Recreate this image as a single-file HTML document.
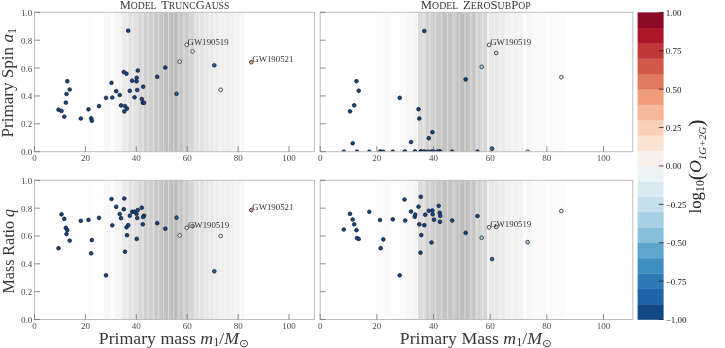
<!DOCTYPE html>
<html><head><meta charset="utf-8"><title>chart</title><style>html,body{margin:0;padding:0;background:#fff;}svg{display:block;will-change:transform;}</style></head><body>
<svg width="725" height="348" viewBox="0 0 725 348">
<defs><linearGradient id="gbL" x1="0" x2="1" y1="0" y2="0"><stop offset="0.000%" stop-color="rgb(255,255,255)"/><stop offset="18.987%" stop-color="rgb(255,255,255)"/><stop offset="19.107%" stop-color="rgb(253,253,253)"/><stop offset="21.130%" stop-color="rgb(253,253,253)"/><stop offset="21.250%" stop-color="rgb(255,255,255)"/><stop offset="24.844%" stop-color="rgb(255,255,255)"/><stop offset="24.964%" stop-color="rgb(248,248,248)"/><stop offset="27.201%" stop-color="rgb(248,248,248)"/><stop offset="27.321%" stop-color="rgb(254,254,254)"/><stop offset="28.809%" stop-color="rgb(254,254,254)"/><stop offset="28.929%" stop-color="rgb(245,245,245)"/><stop offset="31.130%" stop-color="rgb(245,245,245)"/><stop offset="31.250%" stop-color="rgb(235,235,235)"/><stop offset="33.523%" stop-color="rgb(235,235,235)"/><stop offset="33.643%" stop-color="rgb(225,225,225)"/><stop offset="36.666%" stop-color="rgb(225,225,225)"/><stop offset="36.786%" stop-color="rgb(216,216,216)"/><stop offset="38.987%" stop-color="rgb(216,216,216)"/><stop offset="39.107%" stop-color="rgb(207,207,207)"/><stop offset="42.916%" stop-color="rgb(207,207,207)"/><stop offset="43.036%" stop-color="rgb(199,199,199)"/><stop offset="45.416%" stop-color="rgb(199,199,199)"/><stop offset="45.536%" stop-color="rgb(191,191,191)"/><stop offset="48.880%" stop-color="rgb(191,191,191)"/><stop offset="49.000%" stop-color="rgb(187,187,187)"/><stop offset="50.916%" stop-color="rgb(187,187,187)"/><stop offset="51.036%" stop-color="rgb(195,195,195)"/><stop offset="52.559%" stop-color="rgb(195,195,195)"/><stop offset="52.679%" stop-color="rgb(204,204,204)"/><stop offset="55.059%" stop-color="rgb(204,204,204)"/><stop offset="55.179%" stop-color="rgb(214,214,214)"/><stop offset="57.201%" stop-color="rgb(214,214,214)"/><stop offset="57.321%" stop-color="rgb(226,226,226)"/><stop offset="60.416%" stop-color="rgb(226,226,226)"/><stop offset="60.536%" stop-color="rgb(230,230,230)"/><stop offset="61.844%" stop-color="rgb(230,230,230)"/><stop offset="61.964%" stop-color="rgb(233,233,233)"/><stop offset="63.630%" stop-color="rgb(233,233,233)"/><stop offset="63.750%" stop-color="rgb(237,237,237)"/><stop offset="65.416%" stop-color="rgb(237,237,237)"/><stop offset="65.536%" stop-color="rgb(240,240,240)"/><stop offset="67.201%" stop-color="rgb(240,240,240)"/><stop offset="67.321%" stop-color="rgb(240,240,240)"/><stop offset="70.773%" stop-color="rgb(240,240,240)"/><stop offset="70.893%" stop-color="rgb(244,244,244)"/><stop offset="73.273%" stop-color="rgb(244,244,244)"/><stop offset="73.393%" stop-color="rgb(249,249,249)"/><stop offset="74.916%" stop-color="rgb(249,249,249)"/><stop offset="75.036%" stop-color="rgb(255,255,255)"/><stop offset="99.880%" stop-color="rgb(255,255,255)"/><stop offset="100.000%" stop-color="rgb(255,255,255)"/></linearGradient><linearGradient id="gbR" x1="0" x2="1" y1="0" y2="0"><stop offset="0.000%" stop-color="rgb(255,255,255)"/><stop offset="14.691%" stop-color="rgb(255,255,255)"/><stop offset="14.811%" stop-color="rgb(254,254,254)"/><stop offset="18.210%" stop-color="rgb(254,254,254)"/><stop offset="18.330%" stop-color="rgb(252,252,252)"/><stop offset="20.289%" stop-color="rgb(252,252,252)"/><stop offset="20.409%" stop-color="rgb(250,250,250)"/><stop offset="22.465%" stop-color="rgb(250,250,250)"/><stop offset="22.585%" stop-color="rgb(253,253,253)"/><stop offset="25.280%" stop-color="rgb(253,253,253)"/><stop offset="25.400%" stop-color="rgb(250,250,250)"/><stop offset="27.327%" stop-color="rgb(250,250,250)"/><stop offset="27.447%" stop-color="rgb(247,247,247)"/><stop offset="29.567%" stop-color="rgb(247,247,247)"/><stop offset="29.687%" stop-color="rgb(244,244,244)"/><stop offset="30.846%" stop-color="rgb(244,244,244)"/><stop offset="30.966%" stop-color="rgb(252,252,252)"/><stop offset="31.326%" stop-color="rgb(252,252,252)"/><stop offset="31.446%" stop-color="rgb(220,220,220)"/><stop offset="33.725%" stop-color="rgb(220,220,220)"/><stop offset="33.845%" stop-color="rgb(208,208,208)"/><stop offset="36.508%" stop-color="rgb(208,208,208)"/><stop offset="36.628%" stop-color="rgb(200,200,200)"/><stop offset="38.652%" stop-color="rgb(200,200,200)"/><stop offset="38.772%" stop-color="rgb(195,195,195)"/><stop offset="42.874%" stop-color="rgb(195,195,195)"/><stop offset="42.994%" stop-color="rgb(202,202,202)"/><stop offset="43.642%" stop-color="rgb(202,202,202)"/><stop offset="43.762%" stop-color="rgb(190,190,190)"/><stop offset="46.521%" stop-color="rgb(190,190,190)"/><stop offset="46.641%" stop-color="rgb(188,188,188)"/><stop offset="47.257%" stop-color="rgb(188,188,188)"/><stop offset="47.377%" stop-color="rgb(198,198,198)"/><stop offset="49.400%" stop-color="rgb(198,198,198)"/><stop offset="49.520%" stop-color="rgb(208,208,208)"/><stop offset="51.160%" stop-color="rgb(208,208,208)"/><stop offset="51.280%" stop-color="rgb(213,213,213)"/><stop offset="53.239%" stop-color="rgb(213,213,213)"/><stop offset="53.359%" stop-color="rgb(242,242,242)"/><stop offset="53.783%" stop-color="rgb(242,242,242)"/><stop offset="53.903%" stop-color="rgb(232,232,232)"/><stop offset="56.438%" stop-color="rgb(232,232,232)"/><stop offset="56.558%" stop-color="rgb(236,236,236)"/><stop offset="58.901%" stop-color="rgb(236,236,236)"/><stop offset="59.021%" stop-color="rgb(240,240,240)"/><stop offset="60.277%" stop-color="rgb(240,240,240)"/><stop offset="60.397%" stop-color="rgb(242,242,242)"/><stop offset="63.156%" stop-color="rgb(242,242,242)"/><stop offset="63.276%" stop-color="rgb(243,243,243)"/><stop offset="64.915%" stop-color="rgb(243,243,243)"/><stop offset="65.035%" stop-color="rgb(251,251,251)"/><stop offset="66.035%" stop-color="rgb(251,251,251)"/><stop offset="66.155%" stop-color="rgb(246,246,246)"/><stop offset="67.634%" stop-color="rgb(246,246,246)"/><stop offset="67.754%" stop-color="rgb(250,250,250)"/><stop offset="71.793%" stop-color="rgb(250,250,250)"/><stop offset="71.913%" stop-color="rgb(252,252,252)"/><stop offset="78.191%" stop-color="rgb(252,252,252)"/><stop offset="78.311%" stop-color="rgb(255,255,255)"/><stop offset="99.880%" stop-color="rgb(255,255,255)"/><stop offset="100.000%" stop-color="rgb(255,255,255)"/></linearGradient>
<pattern id="stL" x="137.2" width="5.15" height="10" patternUnits="userSpaceOnUse"><rect x="0" y="0" width="1.1" height="10" fill="#fff" fill-opacity="0.4"/></pattern>
<pattern id="stR" x="435.0" width="5.9" height="10" patternUnits="userSpaceOnUse"><rect x="0" y="0" width="1.2" height="10" fill="#fff" fill-opacity="0.4"/></pattern>
<clipPath id="ctl"><rect x="34.5" y="12.3" width="280.0" height="139.39999999999998"/></clipPath>
<clipPath id="ctr"><rect x="320.2" y="12.3" width="312.59999999999997" height="139.39999999999998"/></clipPath>
<clipPath id="cbl"><rect x="34.5" y="180.3" width="280.0" height="139.2"/></clipPath>
<clipPath id="cbr"><rect x="320.2" y="180.3" width="312.59999999999997" height="139.2"/></clipPath>
</defs>
<rect width="725" height="348" fill="#fff"/>
<rect x="34.5" y="12.3" width="280.0" height="139.39999999999998" fill="url(#gbL)"/>
<rect x="126.1" y="12.3" width="119.6" height="139.39999999999998" fill="url(#stL)"/>
<g clip-path="url(#ctl)" stroke="#141824" stroke-width="0.72">
<circle cx="58.5" cy="109.7" r="1.85" fill="#10478a"/>
<circle cx="61.5" cy="110.9" r="1.85" fill="#10478a"/>
<circle cx="64.3" cy="116.6" r="1.85" fill="#10478a"/>
<circle cx="65.8" cy="102.6" r="1.85" fill="#10478a"/>
<circle cx="66.5" cy="94.0" r="1.85" fill="#10478a"/>
<circle cx="67.3" cy="81.2" r="1.85" fill="#10478a"/>
<circle cx="69.7" cy="89.5" r="1.85" fill="#10478a"/>
<circle cx="80.8" cy="118.5" r="1.85" fill="#10478a"/>
<circle cx="88.5" cy="109.3" r="1.85" fill="#10478a"/>
<circle cx="91.2" cy="118.3" r="1.85" fill="#10478a"/>
<circle cx="91.8" cy="120.7" r="1.85" fill="#10478a"/>
<circle cx="99" cy="106.1" r="1.85" fill="#10478a"/>
<circle cx="106" cy="97.8" r="1.85" fill="#10478a"/>
<circle cx="111.5" cy="82.8" r="1.85" fill="#10478a"/>
<circle cx="112.3" cy="97.5" r="1.85" fill="#10478a"/>
<circle cx="116.2" cy="91.2" r="1.85" fill="#10478a"/>
<circle cx="119.7" cy="95" r="1.85" fill="#10478a"/>
<circle cx="121" cy="105.4" r="1.85" fill="#10478a"/>
<circle cx="123.8" cy="72" r="1.85" fill="#10478a"/>
<circle cx="124.3" cy="111.4" r="1.85" fill="#10478a"/>
<circle cx="125" cy="106" r="1.85" fill="#10478a"/>
<circle cx="126.5" cy="73.7" r="1.85" fill="#10478a"/>
<circle cx="127" cy="108.6" r="1.85" fill="#10478a"/>
<circle cx="128.2" cy="30.7" r="1.85" fill="#10478a"/>
<circle cx="129.8" cy="90.8" r="1.85" fill="#10478a"/>
<circle cx="132.2" cy="80.7" r="1.85" fill="#10478a"/>
<circle cx="134.5" cy="97.3" r="1.85" fill="#10478a"/>
<circle cx="136.5" cy="81.3" r="1.85" fill="#10478a"/>
<circle cx="136.7" cy="77.8" r="1.85" fill="#10478a"/>
<circle cx="137.2" cy="90" r="1.85" fill="#10478a"/>
<circle cx="137.8" cy="70.5" r="1.85" fill="#10478a"/>
<circle cx="141.8" cy="99" r="1.85" fill="#10478a"/>
<circle cx="142.8" cy="102.7" r="1.85" fill="#10478a"/>
<circle cx="144" cy="102.8" r="1.85" fill="#10478a"/>
<circle cx="143.2" cy="86.7" r="1.85" fill="#10478a"/>
<circle cx="157.2" cy="76.8" r="1.85" fill="#10478a"/>
<circle cx="165.3" cy="67.5" r="1.85" fill="#10478a"/>
<circle cx="176.5" cy="93.8" r="1.85" fill="#1f63a8"/>
<circle cx="179.7" cy="61.7" r="1.85" fill="#edf2f5"/>
<circle cx="186.7" cy="44.8" r="1.85" fill="#f9f0eb"/>
<circle cx="192.6" cy="51.5" r="1.85" fill="#edf2f5"/>
<circle cx="214.3" cy="65.3" r="1.85" fill="#2168b0"/>
<circle cx="220.7" cy="89.8" r="1.85" fill="#f6f6f6"/>
<circle cx="251.3" cy="62.2" r="1.85" fill="#f09c7b"/>
</g>
<text x="187.6" y="44.8" font-family="Liberation Serif, serif" font-size="8.8" fill="#333">GW190519</text>
<text x="252.3" y="62.2" font-family="Liberation Serif, serif" font-size="8.8" fill="#333">GW190521</text>
<rect x="34.5" y="12.3" width="280.0" height="139.39999999999998" fill="none" stroke="#bebebe" stroke-width="1"/>
<line x1="34.50" x2="34.50" y1="151.7" y2="146.2" stroke="#6e6e6e" stroke-width="0.8"/>
<text x="34.50" y="160.89999999999998" font-family="Liberation Serif, serif" font-size="9" fill="#4c4c4c" text-anchor="middle">0</text>
<line x1="85.41" x2="85.41" y1="151.7" y2="146.2" stroke="#6e6e6e" stroke-width="0.8"/>
<text x="85.41" y="160.89999999999998" font-family="Liberation Serif, serif" font-size="9" fill="#4c4c4c" text-anchor="middle">20</text>
<line x1="136.32" x2="136.32" y1="151.7" y2="146.2" stroke="#6e6e6e" stroke-width="0.8"/>
<text x="136.32" y="160.89999999999998" font-family="Liberation Serif, serif" font-size="9" fill="#4c4c4c" text-anchor="middle">40</text>
<line x1="187.23" x2="187.23" y1="151.7" y2="146.2" stroke="#6e6e6e" stroke-width="0.8"/>
<text x="187.23" y="160.89999999999998" font-family="Liberation Serif, serif" font-size="9" fill="#4c4c4c" text-anchor="middle">60</text>
<line x1="238.14" x2="238.14" y1="151.7" y2="146.2" stroke="#6e6e6e" stroke-width="0.8"/>
<text x="238.14" y="160.89999999999998" font-family="Liberation Serif, serif" font-size="9" fill="#4c4c4c" text-anchor="middle">80</text>
<line x1="289.05" x2="289.05" y1="151.7" y2="146.2" stroke="#6e6e6e" stroke-width="0.8"/>
<text x="289.05" y="160.89999999999998" font-family="Liberation Serif, serif" font-size="9" fill="#4c4c4c" text-anchor="middle">100</text>
<line x1="34.5" x2="40.0" y1="151.70" y2="151.70" stroke="#6e6e6e" stroke-width="0.8"/>
<line x1="34.5" x2="40.0" y1="123.82" y2="123.82" stroke="#6e6e6e" stroke-width="0.8"/>
<line x1="34.5" x2="40.0" y1="95.94" y2="95.94" stroke="#6e6e6e" stroke-width="0.8"/>
<line x1="34.5" x2="40.0" y1="68.06" y2="68.06" stroke="#6e6e6e" stroke-width="0.8"/>
<line x1="34.5" x2="40.0" y1="40.18" y2="40.18" stroke="#6e6e6e" stroke-width="0.8"/>
<line x1="34.5" x2="40.0" y1="12.30" y2="12.30" stroke="#6e6e6e" stroke-width="0.8"/>
<rect x="320.2" y="12.3" width="312.59999999999997" height="139.39999999999998" fill="url(#gbR)"/>
<rect x="422.2" y="12.3" width="133.1" height="139.39999999999998" fill="url(#stR)"/>
<g clip-path="url(#ctr)" stroke="#141824" stroke-width="0.72">
<circle cx="343.8" cy="151.7" r="1.85" fill="#10478a"/>
<circle cx="350" cy="111.3" r="1.85" fill="#10478a"/>
<circle cx="352.7" cy="143.3" r="1.85" fill="#10478a"/>
<circle cx="354.2" cy="105.3" r="1.85" fill="#10478a"/>
<circle cx="356.5" cy="81.2" r="1.85" fill="#10478a"/>
<circle cx="357" cy="151.7" r="1.85" fill="#10478a"/>
<circle cx="358.7" cy="90.7" r="1.85" fill="#10478a"/>
<circle cx="369.3" cy="151.7" r="1.85" fill="#10478a"/>
<circle cx="380" cy="151.7" r="1.85" fill="#10478a"/>
<circle cx="380.7" cy="151.7" r="1.85" fill="#10478a"/>
<circle cx="383.3" cy="151.7" r="1.85" fill="#10478a"/>
<circle cx="392.8" cy="151.7" r="1.85" fill="#10478a"/>
<circle cx="399.7" cy="97.8" r="1.85" fill="#10478a"/>
<circle cx="404.5" cy="151.7" r="1.85" fill="#10478a"/>
<circle cx="405.2" cy="151.7" r="1.85" fill="#10478a"/>
<circle cx="411" cy="142" r="1.85" fill="#10478a"/>
<circle cx="414.7" cy="151.7" r="1.85" fill="#10478a"/>
<circle cx="415.2" cy="151.7" r="1.85" fill="#10478a"/>
<circle cx="418.5" cy="109.2" r="1.85" fill="#10478a"/>
<circle cx="419.3" cy="118.5" r="1.85" fill="#10478a"/>
<circle cx="420.5" cy="151.7" r="1.85" fill="#10478a"/>
<circle cx="420.8" cy="151.7" r="1.85" fill="#10478a"/>
<circle cx="421.3" cy="151.7" r="1.85" fill="#10478a"/>
<circle cx="424.3" cy="31" r="1.85" fill="#10478a"/>
<circle cx="425.2" cy="151.7" r="1.85" fill="#10478a"/>
<circle cx="428.8" cy="138.2" r="1.85" fill="#10478a"/>
<circle cx="431.5" cy="151.7" r="1.85" fill="#10478a"/>
<circle cx="432.4" cy="132.2" r="1.85" fill="#10478a"/>
<circle cx="432.7" cy="151.7" r="1.85" fill="#10478a"/>
<circle cx="434" cy="151.7" r="1.85" fill="#10478a"/>
<circle cx="438.7" cy="151.7" r="1.85" fill="#10478a"/>
<circle cx="439.7" cy="151.7" r="1.85" fill="#10478a"/>
<circle cx="440.3" cy="151.7" r="1.85" fill="#10478a"/>
<circle cx="440" cy="151.7" r="1.85" fill="#10478a"/>
<circle cx="452.2" cy="151.7" r="1.85" fill="#10478a"/>
<circle cx="465.7" cy="79.4" r="1.85" fill="#10478a"/>
<circle cx="477.5" cy="151.7" r="1.85" fill="#10478a"/>
<circle cx="481.7" cy="66.8" r="1.85" fill="#a7d0e4"/>
<circle cx="489.1" cy="45" r="1.85" fill="#f9f0eb"/>
<circle cx="492.1" cy="148.7" r="1.85" fill="#1f63a8"/>
<circle cx="496.2" cy="53" r="1.85" fill="#c5dfec"/>
<circle cx="527.6" cy="151.7" r="1.85" fill="#a7d0e4"/>
<circle cx="561.3" cy="77.2" r="1.85" fill="#f6f6f6"/>
<circle cx="423.6" cy="151.7" r="1.85" fill="#10478a"/>
<circle cx="428.4" cy="151.7" r="1.85" fill="#10478a"/>
<circle cx="437.4" cy="151.7" r="1.85" fill="#10478a"/>
</g>
<text x="490.2" y="45.0" font-family="Liberation Serif, serif" font-size="8.8" fill="#333">GW190519</text>
<rect x="320.2" y="12.3" width="312.59999999999997" height="139.39999999999998" fill="none" stroke="#bebebe" stroke-width="1"/>
<line x1="320.20" x2="320.20" y1="151.7" y2="146.2" stroke="#6e6e6e" stroke-width="0.8"/>
<text x="320.20" y="160.89999999999998" font-family="Liberation Serif, serif" font-size="9" fill="#4c4c4c" text-anchor="middle">0</text>
<line x1="376.85" x2="376.85" y1="151.7" y2="146.2" stroke="#6e6e6e" stroke-width="0.8"/>
<text x="376.85" y="160.89999999999998" font-family="Liberation Serif, serif" font-size="9" fill="#4c4c4c" text-anchor="middle">20</text>
<line x1="433.50" x2="433.50" y1="151.7" y2="146.2" stroke="#6e6e6e" stroke-width="0.8"/>
<text x="433.50" y="160.89999999999998" font-family="Liberation Serif, serif" font-size="9" fill="#4c4c4c" text-anchor="middle">40</text>
<line x1="490.15" x2="490.15" y1="151.7" y2="146.2" stroke="#6e6e6e" stroke-width="0.8"/>
<text x="490.15" y="160.89999999999998" font-family="Liberation Serif, serif" font-size="9" fill="#4c4c4c" text-anchor="middle">60</text>
<line x1="546.80" x2="546.80" y1="151.7" y2="146.2" stroke="#6e6e6e" stroke-width="0.8"/>
<text x="546.80" y="160.89999999999998" font-family="Liberation Serif, serif" font-size="9" fill="#4c4c4c" text-anchor="middle">80</text>
<line x1="603.45" x2="603.45" y1="151.7" y2="146.2" stroke="#6e6e6e" stroke-width="0.8"/>
<text x="603.45" y="160.89999999999998" font-family="Liberation Serif, serif" font-size="9" fill="#4c4c4c" text-anchor="middle">100</text>
<line x1="320.2" x2="325.7" y1="151.70" y2="151.70" stroke="#6e6e6e" stroke-width="0.8"/>
<line x1="320.2" x2="325.7" y1="123.82" y2="123.82" stroke="#6e6e6e" stroke-width="0.8"/>
<line x1="320.2" x2="325.7" y1="95.94" y2="95.94" stroke="#6e6e6e" stroke-width="0.8"/>
<line x1="320.2" x2="325.7" y1="68.06" y2="68.06" stroke="#6e6e6e" stroke-width="0.8"/>
<line x1="320.2" x2="325.7" y1="40.18" y2="40.18" stroke="#6e6e6e" stroke-width="0.8"/>
<line x1="320.2" x2="325.7" y1="12.30" y2="12.30" stroke="#6e6e6e" stroke-width="0.8"/>
<rect x="34.5" y="180.3" width="280.0" height="139.2" fill="url(#gbL)"/>
<rect x="126.1" y="180.3" width="119.6" height="139.2" fill="url(#stL)"/>
<g clip-path="url(#cbl)" stroke="#141824" stroke-width="0.72">
<circle cx="58.5" cy="248.2" r="1.85" fill="#10478a"/>
<circle cx="61.5" cy="214.3" r="1.85" fill="#10478a"/>
<circle cx="64.3" cy="218.8" r="1.85" fill="#10478a"/>
<circle cx="65.8" cy="227.8" r="1.85" fill="#10478a"/>
<circle cx="66.5" cy="234.1" r="1.85" fill="#10478a"/>
<circle cx="67.3" cy="230.2" r="1.85" fill="#10478a"/>
<circle cx="69.7" cy="240.6" r="1.85" fill="#10478a"/>
<circle cx="80.8" cy="220.8" r="1.85" fill="#10478a"/>
<circle cx="88.5" cy="219.8" r="1.85" fill="#10478a"/>
<circle cx="91.2" cy="253.3" r="1.85" fill="#10478a"/>
<circle cx="91.8" cy="240.1" r="1.85" fill="#10478a"/>
<circle cx="99" cy="217.8" r="1.85" fill="#10478a"/>
<circle cx="106" cy="275.3" r="1.85" fill="#10478a"/>
<circle cx="111.5" cy="199" r="1.85" fill="#10478a"/>
<circle cx="112.3" cy="225.3" r="1.85" fill="#10478a"/>
<circle cx="116.2" cy="206.8" r="1.85" fill="#10478a"/>
<circle cx="119.7" cy="214" r="1.85" fill="#10478a"/>
<circle cx="121" cy="218.2" r="1.85" fill="#10478a"/>
<circle cx="123.8" cy="209.2" r="1.85" fill="#10478a"/>
<circle cx="124.3" cy="198.5" r="1.85" fill="#10478a"/>
<circle cx="125" cy="251.7" r="1.85" fill="#10478a"/>
<circle cx="126.5" cy="227.3" r="1.85" fill="#10478a"/>
<circle cx="127" cy="235.2" r="1.85" fill="#10478a"/>
<circle cx="128.2" cy="225.2" r="1.85" fill="#10478a"/>
<circle cx="129.8" cy="215.7" r="1.85" fill="#10478a"/>
<circle cx="132.2" cy="211.8" r="1.85" fill="#10478a"/>
<circle cx="134.5" cy="211.7" r="1.85" fill="#10478a"/>
<circle cx="136.5" cy="213.8" r="1.85" fill="#10478a"/>
<circle cx="136.7" cy="238.9" r="1.85" fill="#10478a"/>
<circle cx="137.2" cy="218" r="1.85" fill="#10478a"/>
<circle cx="137.8" cy="210" r="1.85" fill="#10478a"/>
<circle cx="141.8" cy="207.7" r="1.85" fill="#10478a"/>
<circle cx="142.8" cy="224.3" r="1.85" fill="#10478a"/>
<circle cx="144" cy="215.7" r="1.85" fill="#10478a"/>
<circle cx="143.2" cy="217" r="1.85" fill="#10478a"/>
<circle cx="157.2" cy="223.2" r="1.85" fill="#10478a"/>
<circle cx="165.3" cy="228.7" r="1.85" fill="#10478a"/>
<circle cx="176.5" cy="217.7" r="1.85" fill="#1f63a8"/>
<circle cx="179.7" cy="235.5" r="1.85" fill="#edf2f5"/>
<circle cx="186.7" cy="227.8" r="1.85" fill="#f9f0eb"/>
<circle cx="192.6" cy="226.2" r="1.85" fill="#edf2f5"/>
<circle cx="214.3" cy="271.3" r="1.85" fill="#2168b0"/>
<circle cx="220.7" cy="236" r="1.85" fill="#f6f6f6"/>
<circle cx="251.3" cy="210" r="1.85" fill="#f09c7b"/>
</g>
<text x="188.0" y="227.8" font-family="Liberation Serif, serif" font-size="8.8" fill="#333">GW190519</text>
<text x="252.3" y="210.0" font-family="Liberation Serif, serif" font-size="8.8" fill="#333">GW190521</text>
<rect x="34.5" y="180.3" width="280.0" height="139.2" fill="none" stroke="#bebebe" stroke-width="1"/>
<line x1="34.50" x2="34.50" y1="319.5" y2="314.0" stroke="#6e6e6e" stroke-width="0.8"/>
<text x="34.50" y="328.7" font-family="Liberation Serif, serif" font-size="9" fill="#4c4c4c" text-anchor="middle">0</text>
<line x1="85.41" x2="85.41" y1="319.5" y2="314.0" stroke="#6e6e6e" stroke-width="0.8"/>
<text x="85.41" y="328.7" font-family="Liberation Serif, serif" font-size="9" fill="#4c4c4c" text-anchor="middle">20</text>
<line x1="136.32" x2="136.32" y1="319.5" y2="314.0" stroke="#6e6e6e" stroke-width="0.8"/>
<text x="136.32" y="328.7" font-family="Liberation Serif, serif" font-size="9" fill="#4c4c4c" text-anchor="middle">40</text>
<line x1="187.23" x2="187.23" y1="319.5" y2="314.0" stroke="#6e6e6e" stroke-width="0.8"/>
<text x="187.23" y="328.7" font-family="Liberation Serif, serif" font-size="9" fill="#4c4c4c" text-anchor="middle">60</text>
<line x1="238.14" x2="238.14" y1="319.5" y2="314.0" stroke="#6e6e6e" stroke-width="0.8"/>
<text x="238.14" y="328.7" font-family="Liberation Serif, serif" font-size="9" fill="#4c4c4c" text-anchor="middle">80</text>
<line x1="289.05" x2="289.05" y1="319.5" y2="314.0" stroke="#6e6e6e" stroke-width="0.8"/>
<text x="289.05" y="328.7" font-family="Liberation Serif, serif" font-size="9" fill="#4c4c4c" text-anchor="middle">100</text>
<line x1="34.5" x2="40.0" y1="319.50" y2="319.50" stroke="#6e6e6e" stroke-width="0.8"/>
<line x1="34.5" x2="40.0" y1="291.66" y2="291.66" stroke="#6e6e6e" stroke-width="0.8"/>
<line x1="34.5" x2="40.0" y1="263.82" y2="263.82" stroke="#6e6e6e" stroke-width="0.8"/>
<line x1="34.5" x2="40.0" y1="235.98" y2="235.98" stroke="#6e6e6e" stroke-width="0.8"/>
<line x1="34.5" x2="40.0" y1="208.14" y2="208.14" stroke="#6e6e6e" stroke-width="0.8"/>
<line x1="34.5" x2="40.0" y1="180.30" y2="180.30" stroke="#6e6e6e" stroke-width="0.8"/>
<rect x="320.2" y="180.3" width="312.59999999999997" height="139.2" fill="url(#gbR)"/>
<rect x="422.2" y="180.3" width="133.1" height="139.2" fill="url(#stR)"/>
<g clip-path="url(#cbr)" stroke="#141824" stroke-width="0.72">
<circle cx="343.8" cy="229.5" r="1.85" fill="#10478a"/>
<circle cx="350" cy="213.8" r="1.85" fill="#10478a"/>
<circle cx="352.7" cy="219.5" r="1.85" fill="#10478a"/>
<circle cx="354.2" cy="224.3" r="1.85" fill="#10478a"/>
<circle cx="356.5" cy="230.2" r="1.85" fill="#10478a"/>
<circle cx="357" cy="238" r="1.85" fill="#10478a"/>
<circle cx="358.7" cy="239" r="1.85" fill="#10478a"/>
<circle cx="369.3" cy="211.8" r="1.85" fill="#10478a"/>
<circle cx="380" cy="220" r="1.85" fill="#10478a"/>
<circle cx="380.7" cy="248.2" r="1.85" fill="#10478a"/>
<circle cx="383.3" cy="239.4" r="1.85" fill="#10478a"/>
<circle cx="392.8" cy="219.3" r="1.85" fill="#10478a"/>
<circle cx="399.7" cy="275.3" r="1.85" fill="#10478a"/>
<circle cx="404.5" cy="199.5" r="1.85" fill="#10478a"/>
<circle cx="405.2" cy="220.5" r="1.85" fill="#10478a"/>
<circle cx="411" cy="211.5" r="1.85" fill="#10478a"/>
<circle cx="414.7" cy="216.8" r="1.85" fill="#10478a"/>
<circle cx="415.2" cy="214.5" r="1.85" fill="#10478a"/>
<circle cx="418.5" cy="206.7" r="1.85" fill="#10478a"/>
<circle cx="419.3" cy="224.3" r="1.85" fill="#10478a"/>
<circle cx="420.5" cy="252.7" r="1.85" fill="#10478a"/>
<circle cx="420.8" cy="196.8" r="1.85" fill="#10478a"/>
<circle cx="421.3" cy="235.1" r="1.85" fill="#10478a"/>
<circle cx="424.3" cy="225.2" r="1.85" fill="#10478a"/>
<circle cx="425.2" cy="214.7" r="1.85" fill="#10478a"/>
<circle cx="428.8" cy="210.8" r="1.85" fill="#10478a"/>
<circle cx="431.5" cy="242.5" r="1.85" fill="#10478a"/>
<circle cx="432.4" cy="210.5" r="1.85" fill="#10478a"/>
<circle cx="432.7" cy="214.3" r="1.85" fill="#10478a"/>
<circle cx="434" cy="219.7" r="1.85" fill="#10478a"/>
<circle cx="438.7" cy="205.8" r="1.85" fill="#10478a"/>
<circle cx="439.7" cy="212.8" r="1.85" fill="#10478a"/>
<circle cx="440.3" cy="215.8" r="1.85" fill="#10478a"/>
<circle cx="440" cy="221.8" r="1.85" fill="#10478a"/>
<circle cx="452.2" cy="220.5" r="1.85" fill="#10478a"/>
<circle cx="465.7" cy="232.8" r="1.85" fill="#10478a"/>
<circle cx="477.5" cy="216" r="1.85" fill="#10478a"/>
<circle cx="481.7" cy="237.8" r="1.85" fill="#a7d0e4"/>
<circle cx="489.1" cy="227.3" r="1.85" fill="#f9f0eb"/>
<circle cx="492.1" cy="259" r="1.85" fill="#1f63a8"/>
<circle cx="496.2" cy="227" r="1.85" fill="#c5dfec"/>
<circle cx="527.6" cy="242.2" r="1.85" fill="#a7d0e4"/>
<circle cx="561.3" cy="211" r="1.85" fill="#f6f6f6"/>
</g>
<text x="490.2" y="227.3" font-family="Liberation Serif, serif" font-size="8.8" fill="#333">GW190519</text>
<rect x="320.2" y="180.3" width="312.59999999999997" height="139.2" fill="none" stroke="#bebebe" stroke-width="1"/>
<line x1="320.20" x2="320.20" y1="319.5" y2="314.0" stroke="#6e6e6e" stroke-width="0.8"/>
<text x="320.20" y="328.7" font-family="Liberation Serif, serif" font-size="9" fill="#4c4c4c" text-anchor="middle">0</text>
<line x1="376.85" x2="376.85" y1="319.5" y2="314.0" stroke="#6e6e6e" stroke-width="0.8"/>
<text x="376.85" y="328.7" font-family="Liberation Serif, serif" font-size="9" fill="#4c4c4c" text-anchor="middle">20</text>
<line x1="433.50" x2="433.50" y1="319.5" y2="314.0" stroke="#6e6e6e" stroke-width="0.8"/>
<text x="433.50" y="328.7" font-family="Liberation Serif, serif" font-size="9" fill="#4c4c4c" text-anchor="middle">40</text>
<line x1="490.15" x2="490.15" y1="319.5" y2="314.0" stroke="#6e6e6e" stroke-width="0.8"/>
<text x="490.15" y="328.7" font-family="Liberation Serif, serif" font-size="9" fill="#4c4c4c" text-anchor="middle">60</text>
<line x1="546.80" x2="546.80" y1="319.5" y2="314.0" stroke="#6e6e6e" stroke-width="0.8"/>
<text x="546.80" y="328.7" font-family="Liberation Serif, serif" font-size="9" fill="#4c4c4c" text-anchor="middle">80</text>
<line x1="603.45" x2="603.45" y1="319.5" y2="314.0" stroke="#6e6e6e" stroke-width="0.8"/>
<text x="603.45" y="328.7" font-family="Liberation Serif, serif" font-size="9" fill="#4c4c4c" text-anchor="middle">100</text>
<line x1="320.2" x2="325.7" y1="319.50" y2="319.50" stroke="#6e6e6e" stroke-width="0.8"/>
<line x1="320.2" x2="325.7" y1="291.66" y2="291.66" stroke="#6e6e6e" stroke-width="0.8"/>
<line x1="320.2" x2="325.7" y1="263.82" y2="263.82" stroke="#6e6e6e" stroke-width="0.8"/>
<line x1="320.2" x2="325.7" y1="235.98" y2="235.98" stroke="#6e6e6e" stroke-width="0.8"/>
<line x1="320.2" x2="325.7" y1="208.14" y2="208.14" stroke="#6e6e6e" stroke-width="0.8"/>
<line x1="320.2" x2="325.7" y1="180.30" y2="180.30" stroke="#6e6e6e" stroke-width="0.8"/>
<text x="32.2" y="155.20" font-family="Liberation Serif, serif" font-size="9" fill="#4c4c4c" text-anchor="end">0.0</text>
<text x="32.2" y="127.32" font-family="Liberation Serif, serif" font-size="9" fill="#4c4c4c" text-anchor="end">0.2</text>
<text x="32.2" y="99.44" font-family="Liberation Serif, serif" font-size="9" fill="#4c4c4c" text-anchor="end">0.4</text>
<text x="32.2" y="71.56" font-family="Liberation Serif, serif" font-size="9" fill="#4c4c4c" text-anchor="end">0.6</text>
<text x="32.2" y="43.68" font-family="Liberation Serif, serif" font-size="9" fill="#4c4c4c" text-anchor="end">0.8</text>
<text x="32.2" y="15.80" font-family="Liberation Serif, serif" font-size="9" fill="#4c4c4c" text-anchor="end">1.0</text>
<text x="32.2" y="323.00" font-family="Liberation Serif, serif" font-size="9" fill="#4c4c4c" text-anchor="end">0.0</text>
<text x="32.2" y="295.16" font-family="Liberation Serif, serif" font-size="9" fill="#4c4c4c" text-anchor="end">0.2</text>
<text x="32.2" y="267.32" font-family="Liberation Serif, serif" font-size="9" fill="#4c4c4c" text-anchor="end">0.4</text>
<text x="32.2" y="239.48" font-family="Liberation Serif, serif" font-size="9" fill="#4c4c4c" text-anchor="end">0.6</text>
<text x="32.2" y="211.64" font-family="Liberation Serif, serif" font-size="9" fill="#4c4c4c" text-anchor="end">0.8</text>
<text x="32.2" y="183.80" font-family="Liberation Serif, serif" font-size="9" fill="#4c4c4c" text-anchor="end">1.0</text>
<text x="174.5" y="8.9" font-family="Liberation Serif, serif" fill="#383838" text-anchor="middle" textLength="109.7" lengthAdjust="spacingAndGlyphs"><tspan font-size="12.0">M</tspan><tspan font-size="9.3">ODEL&#160;&#160;</tspan><tspan font-size="12.0">T</tspan><tspan font-size="9.3">RUNC</tspan><tspan font-size="12.0">G</tspan><tspan font-size="9.3">AUSS</tspan></text>
<text x="475.8" y="8.9" font-family="Liberation Serif, serif" fill="#383838" text-anchor="middle" textLength="110.0" lengthAdjust="spacingAndGlyphs"><tspan font-size="12.0">M</tspan><tspan font-size="9.3">ODEL&#160;&#160;</tspan><tspan font-size="12.0">Z</tspan><tspan font-size="9.3">ERO</tspan><tspan font-size="12.0">S</tspan><tspan font-size="9.3">UB</tspan><tspan font-size="12.0">P</tspan><tspan font-size="9.3">OP</tspan></text>
<text x="173.8" y="343.5" font-family="Liberation Serif, serif" font-size="16.5" fill="#383838" text-anchor="middle" textLength="150" lengthAdjust="spacingAndGlyphs">Primary mass <tspan font-style="italic">m</tspan><tspan font-size="11.5" dy="2.6">1</tspan><tspan dy="-2.6">/</tspan><tspan font-style="italic">M</tspan><tspan font-size="11" dy="3.2">&#x2299;</tspan></text>
<text x="475.8" y="343.5" font-family="Liberation Serif, serif" font-size="16.5" fill="#383838" text-anchor="middle" textLength="152" lengthAdjust="spacingAndGlyphs">Primary Mass <tspan font-style="italic">m</tspan><tspan font-size="11.5" dy="2.6">1</tspan><tspan dy="-2.6">/</tspan><tspan font-style="italic">M</tspan><tspan font-size="11" dy="3.2">&#x2299;</tspan></text>
<text transform="translate(13.2,82.8) rotate(-90)" font-family="Liberation Serif, serif" font-size="16.5" fill="#383838" text-anchor="middle" textLength="109.5" lengthAdjust="spacingAndGlyphs">Primary Spin <tspan font-style="italic">a</tspan><tspan font-size="11.5" dy="2.6">1</tspan></text>
<text transform="translate(13.6,251.2) rotate(-90)" font-family="Liberation Serif, serif" font-size="16.5" fill="#383838" text-anchor="middle" textLength="84.4" lengthAdjust="spacingAndGlyphs">Mass Ratio <tspan font-style="italic">q</tspan></text>
<rect x="637.6" y="304.14" width="26.0" height="15.66" fill="#124984"/>
<rect x="637.6" y="288.79" width="26.0" height="15.66" fill="#1f63a8"/>
<rect x="637.6" y="273.44" width="26.0" height="15.66" fill="#2f79b5"/>
<rect x="637.6" y="258.08" width="26.0" height="15.66" fill="#3f8ec0"/>
<rect x="637.6" y="242.72" width="26.0" height="15.66" fill="#5fa5cd"/>
<rect x="637.6" y="227.37" width="26.0" height="15.66" fill="#87beda"/>
<rect x="637.6" y="212.01" width="26.0" height="15.66" fill="#a7d0e4"/>
<rect x="637.6" y="196.66" width="26.0" height="15.66" fill="#c5dfec"/>
<rect x="637.6" y="181.31" width="26.0" height="15.66" fill="#dbeaf2"/>
<rect x="637.6" y="165.95" width="26.0" height="15.66" fill="#edf2f5"/>
<rect x="637.6" y="150.59" width="26.0" height="15.66" fill="#f9f0eb"/>
<rect x="637.6" y="135.24" width="26.0" height="15.66" fill="#fbe3d4"/>
<rect x="637.6" y="119.88" width="26.0" height="15.66" fill="#fbd0b9"/>
<rect x="637.6" y="104.53" width="26.0" height="15.66" fill="#f7b799"/>
<rect x="637.6" y="89.17" width="26.0" height="15.66" fill="#f09c7b"/>
<rect x="637.6" y="73.82" width="26.0" height="15.66" fill="#e17860"/>
<rect x="637.6" y="58.46" width="26.0" height="15.66" fill="#d25849"/>
<rect x="637.6" y="43.11" width="26.0" height="15.66" fill="#c13639"/>
<rect x="637.6" y="27.75" width="26.0" height="15.66" fill="#ae172a"/>
<rect x="637.6" y="12.40" width="26.0" height="15.66" fill="#8a0b25"/>
<line x1="658.8000000000001" x2="663.6" y1="319.50" y2="319.50" stroke="#222" stroke-width="0.8"/>
<text x="665.8" y="323.00" font-family="Liberation Serif, serif" font-size="9" fill="#222">&#x2212;1.00</text>
<line x1="658.8000000000001" x2="663.6" y1="281.11" y2="281.11" stroke="#222" stroke-width="0.8"/>
<text x="665.8" y="284.61" font-family="Liberation Serif, serif" font-size="9" fill="#222">&#x2212;0.75</text>
<line x1="658.8000000000001" x2="663.6" y1="242.72" y2="242.72" stroke="#222" stroke-width="0.8"/>
<text x="665.8" y="246.22" font-family="Liberation Serif, serif" font-size="9" fill="#222">&#x2212;0.50</text>
<line x1="658.8000000000001" x2="663.6" y1="204.34" y2="204.34" stroke="#222" stroke-width="0.8"/>
<text x="665.8" y="207.84" font-family="Liberation Serif, serif" font-size="9" fill="#222">&#x2212;0.25</text>
<line x1="658.8000000000001" x2="663.6" y1="165.95" y2="165.95" stroke="#222" stroke-width="0.8"/>
<text x="665.8" y="169.45" font-family="Liberation Serif, serif" font-size="9" fill="#222">0.00</text>
<line x1="658.8000000000001" x2="663.6" y1="127.56" y2="127.56" stroke="#222" stroke-width="0.8"/>
<text x="665.8" y="131.06" font-family="Liberation Serif, serif" font-size="9" fill="#222">0.25</text>
<line x1="658.8000000000001" x2="663.6" y1="89.17" y2="89.17" stroke="#222" stroke-width="0.8"/>
<text x="665.8" y="92.67" font-family="Liberation Serif, serif" font-size="9" fill="#222">0.50</text>
<line x1="658.8000000000001" x2="663.6" y1="50.79" y2="50.79" stroke="#222" stroke-width="0.8"/>
<text x="665.8" y="54.29" font-family="Liberation Serif, serif" font-size="9" fill="#222">0.75</text>
<line x1="658.8000000000001" x2="663.6" y1="12.40" y2="12.40" stroke="#222" stroke-width="0.8"/>
<text x="665.8" y="15.90" font-family="Liberation Serif, serif" font-size="9" fill="#222">1.00</text>
<text transform="translate(701.2,166.5) rotate(-90)" font-family="Liberation Serif, serif" font-size="16.5" fill="#222" text-anchor="middle" textLength="94" lengthAdjust="spacingAndGlyphs">log<tspan font-size="11.5" dy="2.8">10</tspan><tspan dy="-1.3" font-size="21">(</tspan><tspan dy="-1.5" font-style="italic" font-size="17.5">O</tspan><tspan font-size="10.5" dy="4.4" font-style="italic">1G+2G</tspan><tspan dy="-2.9" font-size="21">)</tspan></text>
</svg>
</body></html>
